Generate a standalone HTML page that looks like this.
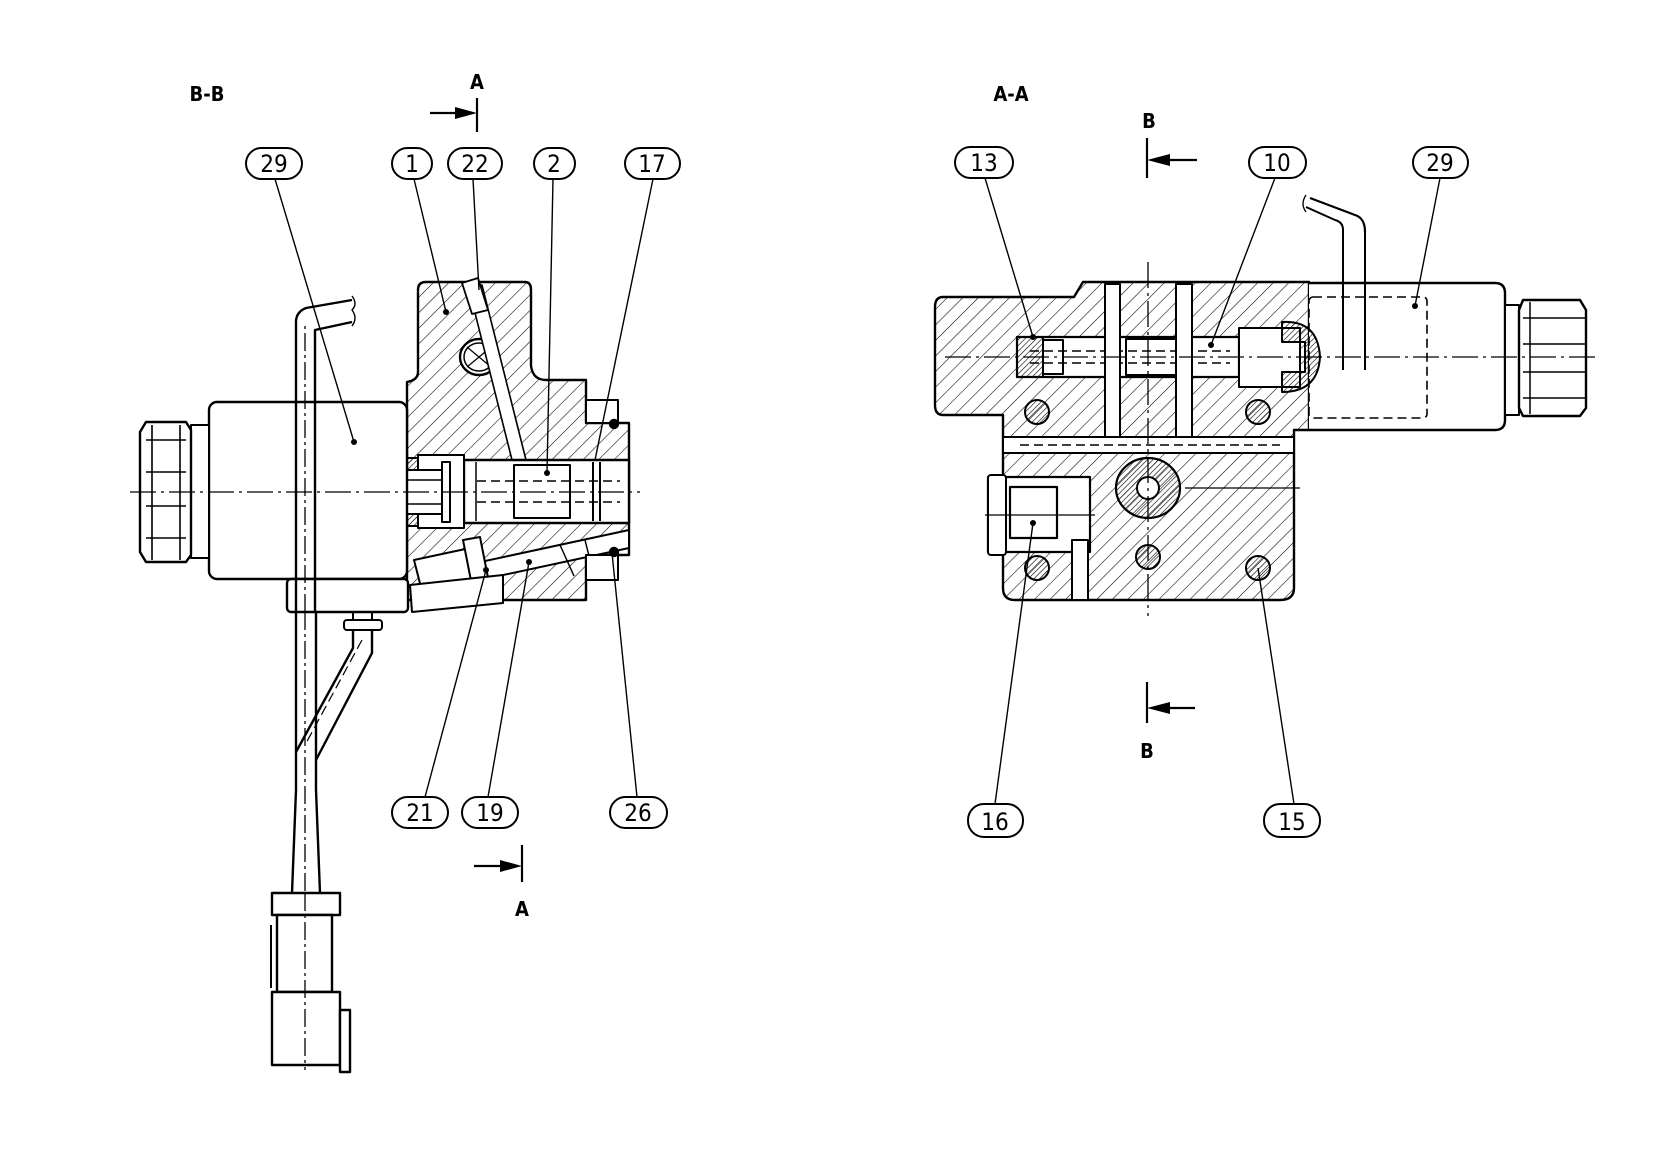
<!DOCTYPE html>
<html><head><meta charset="utf-8"><style>
html,body{margin:0;padding:0;background:#fff;}
svg{display:block;}
text{font-family:"DejaVu Sans Condensed","Liberation Sans Narrow","Liberation Sans",sans-serif;font-weight:bold;fill:#000;}
</style></head><body>
<svg width="1656" height="1169" viewBox="0 0 1656 1169" xmlns="http://www.w3.org/2000/svg">
<defs>
<pattern id="h" width="11" height="11" patternUnits="userSpaceOnUse" patternTransform="rotate(45)">
<line x1="0" y1="0" x2="0" y2="11" stroke="#000" stroke-width="1.1"/>
</pattern>
<pattern id="hd" width="4" height="4" patternUnits="userSpaceOnUse" patternTransform="rotate(45)">
<line x1="0" y1="0" x2="0" y2="4" stroke="#000" stroke-width="1.2"/>
</pattern>
</defs>
<g fill="none" stroke="#000" stroke-width="2.4" stroke-linejoin="round">

<!-- ============ B-B VIEW ============ -->
<!-- body -->
<path d="M426,282 L525,282 Q531,282 531,290 L531,366 Q533,380 546,380 L586,380 L586,423 L629,423 L629,555 L586,555 L586,600 L407,600 L407,382 Q418,380 418,372 L418,290 Q418,282 426,282 Z" fill="url(#h)"/>
<!-- hole circle -->
<ellipse cx="479" cy="357" rx="19" ry="18" fill="#fff"/>
<ellipse cx="479" cy="357" rx="15" ry="14" stroke-width="1.5"/>
<path d="M467,347 L491,367 M491,347 L467,367" stroke-width="1.2"/>
<!-- channel 22 -->
<path d="M468,285 L512,460 L526,460 L482,285 Z" fill="#fff" stroke-width="1.6"/>
<path d="M462,283 L478,278 L488,310 L472,314 Z" fill="#fff" stroke-width="1.8"/>
<!-- spool bore -->
<rect x="464" y="460" width="165" height="63" fill="#fff"/>
<rect x="514" y="465" width="56" height="53" stroke-width="2"/>
<line x1="593" y1="462" x2="593" y2="521" stroke-width="2"/>
<line x1="600" y1="462" x2="600" y2="521" stroke-width="2"/>
<line x1="476" y1="462" x2="476" y2="521" stroke-width="1.5"/>
<path d="M477,481 L620,481 M477,502 L620,502" stroke-dasharray="9,5" stroke-width="1.6"/>
<!-- left fitting -->
<path d="M418,455 L464,455 L464,528 L418,528 Z" fill="#fff" stroke-width="2"/>
<path d="M380,492 Q380,462 400,458 L418,458 L418,526 L400,526 Q380,522 380,492 Z" fill="url(#hd)" stroke-width="2"/>
<rect x="388" y="470" width="54" height="44" fill="#fff" stroke-width="2"/>
<line x1="396" y1="480" x2="442" y2="480" stroke-width="1.5"/>
<line x1="396" y1="504" x2="442" y2="504" stroke-width="1.5"/>
<rect x="442" y="462" width="8" height="60" fill="#fff" stroke-width="2"/>
<!-- tilted pin 19 / nut 21 -->
<path d="M420,575 L629,530 L629,548 L424,592 Z" fill="#fff" stroke-width="2"/>
<path d="M414,560 L470,548 L482,595 L426,607 Z" fill="#fff" stroke-width="2"/>
<path d="M463,540 L480,537 L492,598 L475,601 Z" fill="#fff" stroke-width="2"/>
<line x1="560" y1="545" x2="574" y2="576" stroke-width="1.5"/>
<line x1="585" y1="540" x2="589" y2="556" stroke-width="1.5"/>
<path d="M410,585 L503,575 L503,603 L412,612 Z" fill="#fff" stroke-width="2"/>
<!-- bolts 26 -->
<rect x="586" y="400" width="32" height="23" fill="#fff" stroke-width="2"/>
<rect x="586" y="555" width="32" height="25" fill="#fff" stroke-width="2"/>
<circle cx="614" cy="424" r="4" fill="#000"/>
<circle cx="614" cy="552" r="4" fill="#000"/>
<!-- solenoid -->
<rect x="209" y="402" width="198" height="177" rx="8" fill="#fff"/>
<rect x="287" y="579" width="121" height="33" rx="4" fill="#fff"/>
<rect x="191" y="425" width="18" height="133" fill="#fff" stroke-width="2"/>
<path d="M146,422 L186,422 L191,430 L191,555 L186,562 L146,562 L140,552 L140,432 Z" fill="#fff"/>
<path d="M146,440 L186,440 M146,472 L186,472 M146,506 L186,506 M146,538 L186,538 M152,425 L152,560 M180,425 L180,560" stroke-width="1.6"/>
<!-- centerline -->
<line x1="130" y1="492" x2="640" y2="492" stroke-width="1.3" stroke-dasharray="26,5,3,5"/>
<!-- cable over solenoid -->
<path d="M296,612 L296,322 Q296,312 306,308 L352,300 M315,612 L315,330 L352,322" />
<path d="M305,612 L305,322" stroke-width="1.3" stroke-dasharray="18,4,3,4"/>
<path d="M352,296 Q358,304 352,310 Q358,318 352,326" stroke-width="1.4"/>
<!-- cable down -->
<path d="M296,612 L296,790 L292,893 M316,612 L316,790 L320,893" />
<path d="M305,612 L305,893" stroke-width="1.3" stroke-dasharray="18,4,3,4"/>
<rect x="344" y="620" width="38" height="10" rx="3" fill="#fff" stroke-width="2"/>
<rect x="353" y="612" width="19" height="8" stroke-width="2"/>
<path d="M353,630 L353,648 L296,752 M372,630 L372,653 L316,760" />
<path d="M362,640 L305,745" stroke-width="1.2" stroke-dasharray="10,5"/>
<!-- connector -->
<rect x="272" y="893" width="68" height="22" fill="#fff"/>
<rect x="277" y="915" width="55" height="77" fill="#fff"/>
<rect x="272" y="992" width="68" height="73" fill="#fff"/>
<rect x="340" y="1010" width="10" height="62" fill="#fff"/>
<line x1="271" y1="925" x2="271" y2="988" stroke-width="2"/>
<line x1="305" y1="893" x2="305" y2="1070" stroke-width="1.3" stroke-dasharray="18,4,3,4"/>

<!-- ============ A-A VIEW ============ -->
<path d="M943,297 L1074,297 L1083,282 L1309,282 L1309,430 L1294,430 L1294,588 Q1294,600 1280,600 L1015,600 Q1003,600 1003,588 L1003,415 L943,415 Q935,415 935,405 L935,307 Q935,297 943,297 Z" fill="url(#h)"/>
<!-- solenoid right -->
<path d="M1309,283 L1495,283 Q1505,283 1505,293 L1505,420 Q1505,430 1495,430 L1309,430" fill="#fff"/>
<rect x="1309" y="297" width="118" height="121" rx="4" stroke-width="1.6" stroke-dasharray="9,5"/>
<rect x="1505" y="305" width="14" height="110" fill="#fff" stroke-width="2"/>
<path d="M1523,300 L1580,300 L1586,310 L1586,408 L1580,416 L1523,416 L1519,408 L1519,310 Z" fill="#fff"/>
<path d="M1523,318 L1586,318 M1523,344 L1586,344 M1523,372 L1586,372 M1523,398 L1586,398 M1530,302 L1530,414" stroke-width="1.5"/>
<!-- cable hook A-A -->
<path d="M1343,230 Q1343,222 1335,220 L1306,207 M1365,232 L1365,370 M1343,230 L1343,370" stroke-width="2"/>
<path d="M1365,232 Q1365,218 1355,215 L1310,198" stroke-width="2.2"/>
<path d="M1306,195 Q1300,204 1306,212" stroke-width="1.3"/>
<!-- spool bore -->
<rect x="1017" y="337" width="222" height="40" fill="#fff" stroke-width="2.2"/>
<rect x="1017" y="337" width="26" height="40" fill="url(#hd)" stroke-width="2"/>
<rect x="1043" y="340" width="20" height="34" fill="#fff" stroke-width="2"/>
<rect x="1126" y="339" width="50" height="36" stroke-width="2"/>
<path d="M1030,351 L1230,351 M1030,363 L1230,363" stroke-width="1.5" stroke-dasharray="9,5"/>
<path d="M1239,328 L1300,328 L1300,387 L1239,387 Z" fill="#fff" stroke-width="2"/>
<path d="M1282,322 Q1318,320 1320,357 Q1318,392 1282,392 L1282,372 L1305,372 L1305,342 L1282,342 Z" fill="url(#hd)" stroke-width="2"/>
<!-- vertical drillings -->
<rect x="1105" y="284" width="15" height="168" fill="#fff" stroke-width="2"/>
<rect x="1176" y="284" width="16" height="168" fill="#fff" stroke-width="2"/>
<!-- horizontal channel -->
<rect x="1003" y="437" width="291" height="16" fill="#fff" stroke-width="2"/>
<path d="M1020,445 L1280,445" stroke-width="1.4" stroke-dasharray="9,5"/>
<!-- big circle -->
<ellipse cx="1148" cy="488" rx="32" ry="30" fill="url(#hd)" stroke-width="2.2"/>
<circle cx="1148" cy="488" r="11" fill="#fff" stroke-width="2"/>
<!-- fitting 16 -->
<rect x="988" y="477" width="102" height="75" fill="#fff" stroke-width="2.2"/>
<rect x="1010" y="487" width="47" height="51" fill="#fff" stroke-width="2.2"/>
<rect x="988" y="475" width="18" height="80" rx="3" fill="#fff" stroke-width="2"/>
<rect x="1072" y="540" width="16" height="60" fill="#fff" stroke-width="2"/>
<!-- bolt holes -->
<g fill="url(#hd)" stroke-width="2">
<circle cx="1037" cy="412" r="12"/><circle cx="1258" cy="412" r="12"/>
<circle cx="1037" cy="568" r="12"/><circle cx="1148" cy="557" r="12"/><circle cx="1258" cy="568" r="12"/>
</g>
<!-- centerlines -->
<line x1="1148" y1="262" x2="1148" y2="616" stroke-width="1.3" stroke-dasharray="26,5,3,5"/>
<line x1="945" y1="357" x2="1600" y2="357" stroke-width="1.3" stroke-dasharray="26,5,3,5"/>
<line x1="985" y1="515" x2="1095" y2="515" stroke-width="1.2"/>
<line x1="1185" y1="488" x2="1300" y2="488" stroke-width="1.2"/>
</g>

<!-- ============ LEADERS ============ -->
<g stroke="#000" stroke-width="1.4" fill="none">
<line x1="275" y1="179" x2="354" y2="442"/>
<line x1="414" y1="179" x2="446" y2="312"/>
<line x1="473" y1="179" x2="479" y2="290"/>
<line x1="553" y1="179" x2="547" y2="473"/>
<line x1="653" y1="179" x2="595" y2="460"/>
<line x1="425" y1="797" x2="486" y2="570"/>
<line x1="488" y1="797" x2="529" y2="562"/>
<line x1="637" y1="797" x2="612" y2="553"/>
<line x1="985" y1="178" x2="1033" y2="337"/>
<line x1="1275" y1="178" x2="1211" y2="345"/>
<line x1="1440" y1="178" x2="1415" y2="306"/>
<line x1="995" y1="804" x2="1033" y2="523"/>
<line x1="1294" y1="804" x2="1258" y2="568"/>
</g>
<g fill="#000">
<circle cx="354" cy="442" r="3"/><circle cx="446" cy="312" r="3"/><circle cx="547" cy="473" r="3"/>
<circle cx="486" cy="570" r="3"/><circle cx="529" cy="562" r="3"/>
<circle cx="1033" cy="337" r="3"/><circle cx="1211" cy="345" r="3"/><circle cx="1415" cy="306" r="3"/>
<circle cx="1033" cy="523" r="3"/>
</g>

<!-- section markers -->
<g stroke="#000" stroke-width="2.2" fill="none">
<line x1="477" y1="98" x2="477" y2="132"/><line x1="430" y1="113" x2="460" y2="113"/>
<line x1="522" y1="845" x2="522" y2="882"/><line x1="474" y1="866" x2="505" y2="866"/>
<line x1="1147" y1="138" x2="1147" y2="178"/><line x1="1197" y1="160" x2="1165" y2="160"/>
<line x1="1147" y1="682" x2="1147" y2="723"/><line x1="1195" y1="708" x2="1165" y2="708"/>
</g>
<g fill="#000">
<path d="M477,113 L455,107 L455,119 Z"/><path d="M522,866 L500,860 L500,872 Z"/>
<path d="M1147,160 L1170,154 L1170,166 Z"/><path d="M1147,708 L1170,702 L1170,714 Z"/>
</g>

<!-- balloons -->
<g stroke="#000" stroke-width="2" fill="#fff">
<rect x="246" y="148" width="56" height="31" rx="15.5"/>
<rect x="392" y="148" width="40" height="31" rx="15.5"/>
<rect x="448" y="148" width="54" height="31" rx="15.5"/>
<rect x="534" y="148" width="41" height="31" rx="15.5"/>
<rect x="625" y="148" width="55" height="31" rx="15.5"/>
<rect x="392" y="797" width="56" height="31" rx="15.5"/>
<rect x="462" y="797" width="56" height="31" rx="15.5"/>
<rect x="610" y="797" width="57" height="31" rx="15.5"/>
<rect x="955" y="147" width="58" height="31" rx="15.5"/>
<rect x="1249" y="147" width="57" height="31" rx="15.5"/>
<rect x="1413" y="147" width="55" height="31" rx="15.5"/>
<rect x="968" y="804" width="55" height="33" rx="16"/>
<rect x="1264" y="804" width="56" height="33" rx="16"/>
</g>
<g font-size="24" text-anchor="middle" style="font-weight:normal">
<text x="274" y="172" style="font-weight:normal">29</text>
<text x="412" y="172" style="font-weight:normal">1</text>
<text x="475" y="172" style="font-weight:normal">22</text>
<text x="554" y="172" style="font-weight:normal">2</text>
<text x="652" y="172" style="font-weight:normal">17</text>
<text x="420" y="821" style="font-weight:normal">21</text>
<text x="490" y="821" style="font-weight:normal">19</text>
<text x="638" y="821" style="font-weight:normal">26</text>
<text x="984" y="171" style="font-weight:normal">13</text>
<text x="1277" y="171" style="font-weight:normal">10</text>
<text x="1440" y="171" style="font-weight:normal">29</text>
<text x="995" y="830" style="font-weight:normal">16</text>
<text x="1292" y="830" style="font-weight:normal">15</text>
</g>
<g font-size="20" text-anchor="middle">
<text x="207" y="101">B-B</text>
<text x="1011" y="101">A-A</text>
<text x="477" y="89">A</text>
<text x="522" y="916">A</text>
<text x="1149" y="128">B</text>
<text x="1147" y="758">B</text>
</g>
</svg>
</body></html>
